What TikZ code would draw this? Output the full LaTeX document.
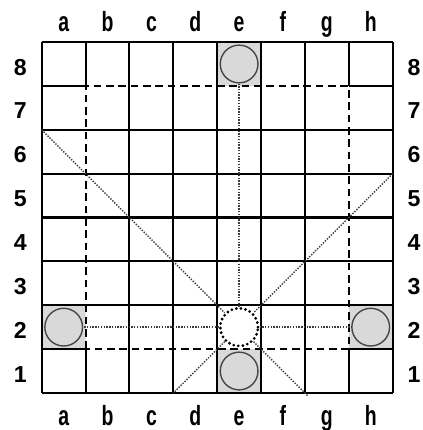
\documentclass[tikz,border=0pt]{standalone}
\usepackage{fontspec}
\setmainfont{Liberation Sans}
\newfontfamily\fileletters{Liberation Sans}[FakeStretch=0.7]
\usetikzlibrary{positioning}
\definecolor{cellgray}{RGB}{217,217,217}
\definecolor{rimgray}{RGB}{70,70,70}
\definecolor{dotgray}{RGB}{60,60,60}

\begin{document}
\begin{tikzpicture}[every node/.style={font=\fontsize{15}{17}\selectfont\bfseries},
  gridline/.style={line width=1.3pt},
  piece/.style={circle,draw=rimgray,fill=cellgray,line width=0.9pt,minimum size=0.86cm,inner sep=0pt},
  target/.style={circle,draw=black,fill=white,line width=2pt,dash pattern=on 0pt off 3pt,line cap=round,minimum size=0.86cm,inner sep=0pt},
  reach/.style={dotgray,line width=0.9pt,dash pattern=on 0.9pt off 0.9pt},
  filelabel/.style={anchor=base,font=\fontsize{18}{20}\fileletters\bfseries}]
\useasboundingbox (-0.952,-0.845) rectangle (8.683,8.959);
% shaded squares
\fill[cellgray] (0,1) rectangle (1,2) (7,1) rectangle (8,2) (4,7) rectangle (5,8) (4,0) rectangle (5,1);
% board
\foreach \i in {0,2,3,4,5,6,8}
  \draw[gridline] (0,\i) -- (8,\i) (\i,0) -- (\i,8);
\foreach \i in {1,7}
  \draw[gridline] (0,\i) -- (1,\i) (7,\i) -- (8,\i) (\i,0) -- (\i,1) (\i,7) -- (\i,8);
\draw[gridline,dash pattern=on 5pt off 3pt] (1,1) rectangle (7,7);
% coordinates
\foreach \c [count=\i] in {a,...,h} {
  \node[filelabel] (top-\c) at (\i-0.5,8.25) {\c};
  \node[filelabel] (bot-\c) at (\i-0.5,-0.75) {\c};
}
\foreach \r in {1,...,8} {
  \node[anchor=base] (left-\r) at (-0.49,\r-0.753) {\r};
  \node[anchor=base] (right-\r) at (8.49,\r-0.753) {\r};
}
% pieces
\node[piece] (a2) at (0.5,1.5) {};
\node[piece] (h2) at (7.5,1.5) {};
\node[piece] (e8) at (4.5,7.5) {};
\node[piece] (e1) at (4.5,0.5) {};
\node[target] (e2) at (4.5,1.5) {};
% lines of reach
\coordinate (nw) at (0,6);
\coordinate (ne) at (8,5);
\coordinate (sw) at (3,0);
\coordinate (se) at (6.08,-0.08);
\draw[reach] (e2) -- (e8);
\draw[reach] (e2) -- (a2);
\draw[reach] (e2) -- (h2);
\draw[reach] (nw) -- (e2);
\draw[reach] (ne) -- (e2);
\draw[reach] (e2) -- (sw);
\draw[reach] (e2) -- (se);
\end{tikzpicture}
\end{document}
